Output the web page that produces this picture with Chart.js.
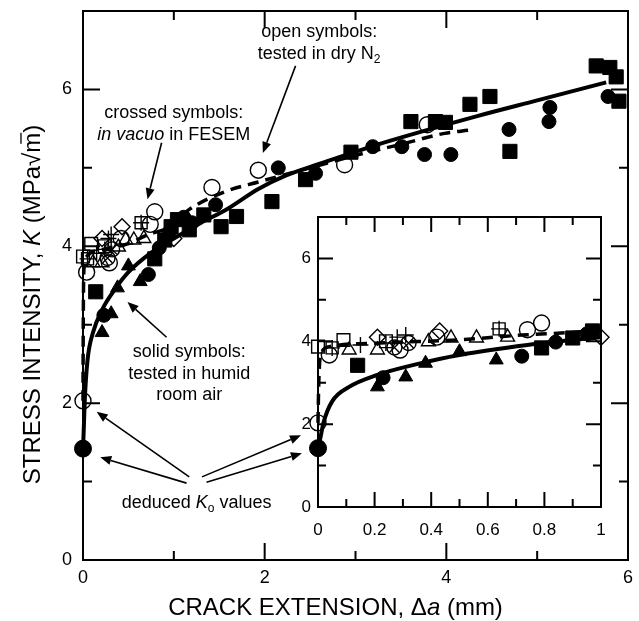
<!DOCTYPE html>
<html>
<head>
<meta charset="utf-8">
<script src="https://cdn.jsdelivr.net/npm/chart.js@4.4.1/dist/chart.umd.min.js"></script>
<style>
  body { margin: 0; background: #fff; }
  #wrap { position: relative; width: 639px; height: 621px; }
  #mainChart { position: absolute; left: 0; top: 0; }
  #insetChart { position: absolute; left: 288px; top: 205px; }
</style>
</head>
<body>
<div id="wrap">
  <canvas id="mainChart" width="639" height="621"></canvas>
  <canvas id="insetChart" width="324" height="340"></canvas>
</div>
<script>
const FONT = '"Liberation Sans", Arial, Helvetica, sans-serif';

// humid room air: solid symbols
const humidCircleX = [0.23, 0.72, 0.84, 0.95, 1.11, 1.2, 1.46, 2.15, 2.56, 3.19, 3.51, 3.76, 4.05, 4.69, 5.13, 5.14, 5.78];
const humidCircleY = [3.12, 3.64, 3.98, 4.18, 4.37, 4.3, 4.53, 5.0, 4.93, 5.27, 5.27, 5.17, 5.17, 5.49, 5.59, 5.77, 5.91];
const humidSquareX = [0.14, 0.79, 0.9, 0.97, 1.04, 1.17, 1.33, 1.52, 1.69, 2.08, 2.45, 2.95, 3.61, 3.88, 3.99, 4.26, 4.48, 4.70, 5.65, 5.8, 5.87, 5.9];
const humidSquareY = [3.42, 3.84, 4.08, 4.25, 4.34, 4.21, 4.4, 4.25, 4.38, 4.57, 4.85, 5.2, 5.59, 5.59, 5.58, 5.81, 5.91, 5.21, 6.3, 6.28, 6.16, 5.85];
const humidTriangleX = [0.21, 0.31, 0.38, 0.5, 0.63];
const humidTriangleY = [2.9, 3.14, 3.47, 3.75, 3.55];

// dry N2: open symbols
const dryCircleX = [0.04, 0.29, 0.42, 0.74, 0.79, 1.42, 1.93, 2.88, 3.79];
const dryCircleY = [3.67, 3.79, 4.1, 4.28, 4.44, 4.75, 4.97, 5.04, 5.55];
const drySquareX = [0, 0.09, 0.24];
const drySquareY = [3.87, 4.03, 4.0];
const dryTriangleX = [0.11, 0.21, 0.39, 0.47, 0.56, 0.67];
const dryTriangleY = [3.79, 3.79, 3.99, 4.08, 4.08, 4.1];
const dryDiamondX = [0.21, 0.43, 1.0];
const dryDiamondY = [4.1, 4.25, 4.1];

// in vacuo (FESEM): crossed symbols
const vacuoPlusX = [0.15, 0.24, 0.28, 0.31];
const vacuoPlusY = [3.91, 3.96, 4.1, 4.15];
const vacuoCrossSquareX = [0.05, 0.64];
const vacuoCrossSquareY = [3.84, 4.3];
const vacuoCrossCircleX = [0.27, 0.32];
const vacuoCrossCircleY = [3.85, 3.96];

// deduced K0 at zero crack extension
const k0Humid = 1.42;
const k0Dry = 2.03;

// fitted curves
const humidFitX = [0, 0.007, 0.02, 0.05, 0.11, 0.21, 0.35, 0.5, 0.74, 1.0, 1.3, 1.58, 1.93, 2.23, 2.6, 3.25, 4.34, 5.0, 5.76];
const humidFitY = [1.42, 1.62, 2.05, 2.55, 2.9, 3.19, 3.45, 3.67, 3.91, 4.1, 4.3, 4.47, 4.73, 4.9, 5.05, 5.3, 5.66, 5.86, 6.09];
const dryFitX = [0, 0.002, 0.005, 0.01, 0.04, 0.22, 0.49, 0.72, 0.94, 1.17, 1.57, 1.93, 2.5, 3.0, 3.5, 3.98, 4.25];
const dryFitY = [2.03, 2.8, 3.4, 3.7, 3.87, 3.96, 4.03, 4.15, 4.24, 4.47, 4.7, 4.82, 5.0, 5.16, 5.3, 5.44, 5.48];

// tick labels
const mainXLabels = ['0', '2', '4', '6'];
const mainYLabels = ['0', '2', '4', '6'];
const insetXLabels = ['0', '0.2', '0.4', '0.6', '0.8', '1'];
const insetYLabels = ['0', '2', '4', '6'];

const pts = (xs, ys) => xs.map((x, i) => ({ x, y: ys[i] }));
const labelFrom = list => v => {
  const hit = list.find(s => Math.abs(parseFloat(s) - v) < 1e-6);
  return hit === undefined ? '' : hit;
};

function markers(data, shape, filled, radius, clip) {
  return {
    data, clip,
    showLine: false,
    pointStyle: shape,
    pointRadius: radius,
    pointHoverRadius: radius,
    pointBackgroundColor: filled ? '#000' : 'rgba(0,0,0,0)',
    pointBorderColor: '#000',
    pointBorderWidth: filled ? 1 : 1.4
  };
}

function curve(data, dash, width, clip) {
  return {
    data, clip,
    showLine: true,
    pointRadius: 0,
    borderColor: '#000',
    borderWidth: width,
    borderDash: dash,
    cubicInterpolationMode: 'monotone',
    fill: false
  };
}

function buildDatasets(keep, markClip, lineClip) {
  const m = (xs, ys) => pts(xs, ys).filter(keep);
  return [
    markers(m([0], [k0Humid]), 'circle', true, 8.5, markClip),
    markers(m([0], [k0Dry]), 'circle', false, 8, markClip),
    markers(m(vacuoPlusX, vacuoPlusY), 'cross', false, 8, markClip),
    markers(m(vacuoCrossSquareX, vacuoCrossSquareY), 'cross', false, 8, markClip),
    markers(m(vacuoCrossSquareX, vacuoCrossSquareY), 'rect', false, 8.5, markClip),
    markers(m(vacuoCrossCircleX, vacuoCrossCircleY), 'crossRot', false, 7, markClip),
    markers(m(vacuoCrossCircleX, vacuoCrossCircleY), 'circle', false, 7.5, markClip),
    markers(m(dryCircleX, dryCircleY), 'circle', false, 8, markClip),
    markers(m(drySquareX, drySquareY), 'rect', false, 9, markClip),
    markers(m(dryTriangleX, dryTriangleY), 'triangle', false, 8, markClip),
    markers(m(dryDiamondX, dryDiamondY), 'rectRot', false, 8, markClip),
    markers(m(humidCircleX, humidCircleY), 'circle', true, 7, markClip),
    markers(m(humidSquareX, humidSquareY), 'rect', true, 10, markClip),
    markers(m(humidTriangleX, humidTriangleY), 'triangle', true, 8, markClip),
    curve(pts(humidFitX, humidFitY), [], 4, lineClip),
    curve(pts(dryFitX, dryFitY), [11, 7], 3.5, lineClip)
  ];
}

// box with inward ticks on all four sides
const frameTicks = {
  id: 'frameTicks',
  afterDatasetsDraw(chart, args, opts) {
    const { ctx, chartArea: a, scales: { x, y } } = chart;
    ctx.save();
    ctx.strokeStyle = '#000';
    ctx.lineWidth = opts.width;
    ctx.strokeRect(a.left, a.top, a.right - a.left, a.bottom - a.top);
    ctx.beginPath();
    x.ticks.forEach(t => {
      const len = t.label ? opts.major : opts.minor;
      const px = x.getPixelForValue(t.value);
      ctx.moveTo(px, a.bottom); ctx.lineTo(px, a.bottom - len);
      ctx.moveTo(px, a.top); ctx.lineTo(px, a.top + len);
    });
    y.ticks.forEach(t => {
      const len = t.label ? opts.major : opts.minor;
      const py = y.getPixelForValue(t.value);
      ctx.moveTo(a.left, py); ctx.lineTo(a.left + len, py);
      ctx.moveTo(a.right, py); ctx.lineTo(a.right - len, py);
    });
    ctx.stroke();
    ctx.restore();
  }
};

// mixed-style text: parts are [text, style] with style '', 'i', 'sub' or 'root'
function richText(ctx, parts, cx, y, size) {
  const fontFor = s => (s === 'i' ? 'italic ' : '') + (s === 'sub' ? Math.round(size * 0.65) : size) + 'px ' + FONT;
  let w = 0;
  parts.forEach(([t, s]) => { ctx.font = fontFor(s); w += ctx.measureText(t).width; });
  let x = cx - w / 2;
  parts.forEach(([t, s]) => {
    ctx.font = fontFor(s);
    const tw = ctx.measureText(t).width;
    ctx.fillText(t, x, s === 'sub' ? y + size * 0.22 : y);
    if (s === 'root') {
      ctx.fillRect(x + tw * 0.45, y - size * 0.82, tw * 0.55, 1.3);
    }
    x += tw;
  });
}

const notes = [
  { x: 2.6, y: 6.67, parts: [['open symbols:', '']] },
  { x: 2.6, y: 6.39, parts: [['tested in dry N', ''], ['2', 'sub']] },
  { x: 1.0, y: 5.64, parts: [['crossed symbols:', '']] },
  { x: 1.0, y: 5.36, parts: [['in vacuo', 'i'], [' in FESEM', '']] },
  { x: 1.17, y: 2.59, parts: [['solid symbols:', '']] },
  { x: 1.17, y: 2.31, parts: [['tested in humid', '']] },
  { x: 1.17, y: 2.04, parts: [['room air', '']] },
  { x: 1.25, y: 0.66, parts: [['deduced ', ''], ['K', 'i'], ['o', 'sub'], [' values', '']] }
];

const arrows = [
  [2.34, 6.30, 1.98, 5.19],
  [0.865, 5.32, 0.71, 4.6],
  [0.92, 2.84, 0.49, 3.29],
  [1.17, 1.06, 0.15, 1.89],
  [1.14, 0.98, 0.19, 1.31],
  [1.31, 1.06, 2.40, 1.59],
  [1.36, 0.99, 2.41, 1.36]
];

const annotations = {
  id: 'annotations',
  afterDraw(chart) {
    const { ctx, chartArea: a, scales: { x, y } } = chart;
    ctx.save();
    ctx.fillStyle = '#000';
    ctx.strokeStyle = '#000';
    ctx.textBaseline = 'alphabetic';
    ctx.textAlign = 'left';

    notes.forEach(n => richText(ctx, n.parts, x.getPixelForValue(n.x), y.getPixelForValue(n.y), 18));

    ctx.lineWidth = 1.6;
    arrows.forEach(([x0, y0, x1, y1]) => {
      const ax = x.getPixelForValue(x0), ay = y.getPixelForValue(y0);
      const bx = x.getPixelForValue(x1), by = y.getPixelForValue(y1);
      const ang = Math.atan2(by - ay, bx - ax);
      const hl = 11, hw = 4.5;
      const baseX = bx - hl * Math.cos(ang), baseY = by - hl * Math.sin(ang);
      ctx.beginPath();
      ctx.moveTo(ax, ay);
      ctx.lineTo(baseX, baseY);
      ctx.stroke();
      ctx.beginPath();
      ctx.moveTo(bx, by);
      ctx.lineTo(baseX + hw * Math.sin(ang), baseY - hw * Math.cos(ang));
      ctx.lineTo(baseX - hw * Math.sin(ang), baseY + hw * Math.cos(ang));
      ctx.closePath();
      ctx.fill();
    });

    // axis titles
    const cx = (a.left + a.right) / 2;
    const cy = (a.top + a.bottom) / 2;
    richText(ctx, [['CRACK EXTENSION, ', ''], ['\u0394', ''], ['a', 'i'], [' (mm)', '']], cx - 20, 615, 24);
    ctx.translate(40, cy + 19);
    ctx.rotate(-Math.PI / 2);
    richText(ctx, [['STRESS INTENSITY, ', ''], ['K', 'i'], [' (MPa\u221A', ''], ['m', 'root'], [')', '']], 0, 0, 24);
    ctx.restore();
  }
};

function axis(min, max, step, labels, size, pad, fitKey, fitVal) {
  return {
    type: 'linear', min, max,
    grid: { display: false, drawTicks: false },
    border: { display: false },
    ticks: {
      stepSize: step, autoSkip: false, maxRotation: 0,
      padding: pad, color: '#000',
      font: { family: FONT, size },
      callback: labelFrom(labels)
    },
    afterFit(scale) {
      scale[fitKey] = fitVal;
      // keep the plot box fixed: no extra room for overhanging end labels
      scale.paddingTop = scale.paddingBottom = scale.paddingLeft = scale.paddingRight = 0;
    }
  };
}

Chart.defaults.font.family = FONT;

new Chart(document.getElementById('mainChart'), {
  type: 'scatter',
  data: { datasets: buildDatasets(() => true, false, false) },
  options: {
    responsive: false,
    animation: false,
    events: [],
    layout: { padding: { top: 11, right: 8, left: 0, bottom: 0 } },
    plugins: { legend: { display: false }, tooltip: { enabled: false }, frameTicks: { width: 2, major: 17, minor: 9 } },
    scales: {
      x: axis(0, 6, 1, mainXLabels, 18, 7, 'height', 61),
      y: axis(0, 7, 1, mainYLabels, 18, 11, 'width', 83)
    }
  },
  plugins: [frameTicks, annotations]
});

// inset: first millimetre of crack extension
const insetMarkClip = { left: 10, right: 10, top: 0, bottom: 0 };
const insetLineClip = { left: 3, right: 0, top: 0, bottom: 0 };
new Chart(document.getElementById('insetChart'), {
  type: 'scatter',
  data: { datasets: buildDatasets(p => p.x <= 1.001, insetMarkClip, insetLineClip) },
  options: {
    responsive: false,
    animation: false,
    events: [],
    layout: { padding: { top: 12, right: 5, left: 0, bottom: 0 } },
    plugins: { legend: { display: false }, tooltip: { enabled: false }, frameTicks: { width: 2, major: 15, minor: 8 } },
    scales: {
      x: axis(0, 1, 0.1, insetXLabels, 17, 13, 'height', 38),
      y: axis(0, 7, 1, insetYLabels, 17, 7, 'width', 30)
    }
  },
  plugins: [frameTicks]
});
</script>
</body>
</html>
